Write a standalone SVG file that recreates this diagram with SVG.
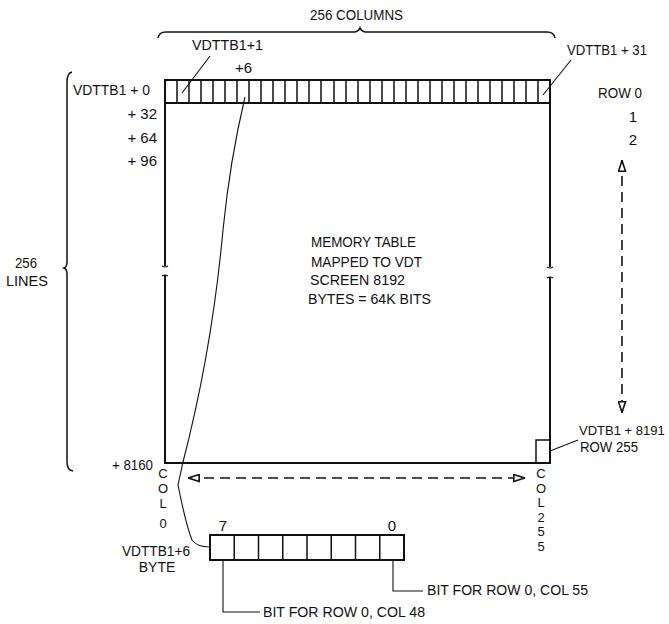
<svg xmlns="http://www.w3.org/2000/svg" width="669" height="624" viewBox="0 0 669 624">
<defs>
<style>
text{font-family:"Liberation Sans",Arial,sans-serif;font-size:15px;fill:#111}
.s{font-size:14px}
.v{font-size:13px;text-anchor:middle}
.ln{fill:none;stroke:#111;stroke-width:1.5}
.thin{fill:none;stroke:#111;stroke-width:1.1}
.bold{fill:none;stroke:#111;stroke-width:2}
.dash{fill:none;stroke:#111;stroke-width:1.6;stroke-dasharray:10 6}
.mid{text-anchor:middle}
</style>
<marker id="ah" viewBox="0 0 12 9" refX="12" refY="4.5" markerWidth="12" markerHeight="9" markerUnits="userSpaceOnUse" orient="auto-start-reverse">
<path d="M0.8,1 L11.5,4.5 L0.8,8 Z" fill="#fff" stroke="#111" stroke-width="1.6"/>
</marker>
</defs>
<rect width="669" height="624" fill="#fff"/>

<g id="columns-brace">
<path class="ln" d="M158,38 Q159,32 166,32 L355,32 Q359,31 360,28 Q361,31 365,32 L547,32 Q554,32 555,38"/>
<text x="310" y="20" textLength="93" lengthAdjust="spacingAndGlyphs">256 COLUMNS</text>
</g>

<g id="lines-brace">
<path class="ln" d="M72,72 Q67,73 67,82 L67,262 Q67,267 64,268 Q67,269 67,274 L67,462 Q67,470 73,471"/>
<text x="15" y="268" textLength="22" lengthAdjust="spacingAndGlyphs">256</text>
<text x="6" y="286" textLength="42" lengthAdjust="spacingAndGlyphs">LINES</text>
</g>

<g id="memory-table">
<rect class="bold" x="165" y="80" width="385" height="23"/>
<path class="ln" d="M177,80V103M189,80V103M201,80V103M213,80V103M225,80V103M237,80V103M249,80V103M261,80V103M273,80V103M285,80V103M297,80V103M309,80V103M321,80V103M334,80V103M346,80V103M358,80V103M370,80V103M382,80V103M394,80V103M406,80V103M418,80V103M430,80V103M442,80V103M454,80V103M466,80V103M478,80V103M490,80V103M502,80V103M514,80V103M526,80V103M538,80V103"/>
<path class="bold" d="M165,103 V266 M165,275 V463 H550 V277 M550,267 V103"/>
<path class="thin" d="M162,266 Q165,268 168,266 M162,276 Q165,274 168,276 M547,267 Q550,269 553,267 M547,278 Q550,276 553,278"/>
<rect class="ln" x="536" y="440" width="14" height="23"/>
<text x="311" y="247" textLength="105" lengthAdjust="spacingAndGlyphs">MEMORY TABLE</text>
<text x="311" y="267" textLength="111" lengthAdjust="spacingAndGlyphs">MAPPED TO VDT</text>
<text x="310" y="285" textLength="95" lengthAdjust="spacingAndGlyphs">SCREEN 8192</text>
<text x="308" y="304" textLength="123" lengthAdjust="spacingAndGlyphs">BYTES = 64K BITS</text>
</g>

<g id="row-labels">
<text x="73" y="95" textLength="77" lengthAdjust="spacingAndGlyphs">VDTTB1 + 0</text>
<text x="157" y="119" text-anchor="end">+ 32</text>
<text x="157" y="143" text-anchor="end">+ 64</text>
<text x="157" y="166" text-anchor="end">+ 96</text>
<text x="112" y="470" textLength="41" lengthAdjust="spacingAndGlyphs">+ 8160</text>
</g>

<g id="top-labels">
<text x="192" y="50" textLength="71" lengthAdjust="spacingAndGlyphs">VDTTB1+1</text>
<text x="235" y="73">+6</text>
<text x="567" y="55" textLength="80" lengthAdjust="spacingAndGlyphs">VDTTB1 + 31</text>
</g>

<g id="row-numbers">
<text x="598" y="98" textLength="44" lengthAdjust="spacingAndGlyphs">ROW 0</text>
<text x="633" y="122" class="mid">1</text>
<text x="633" y="145" class="mid">2</text>
</g>

<g id="last-byte-label">
<text x="579" y="435" style="font-size:13px">VDTB1 + 8191</text>
<text x="580" y="452" textLength="58" lengthAdjust="spacingAndGlyphs">ROW 255</text>
</g>

<g id="col0-label">
<text x="163" y="478" class="v">C</text>
<text x="163" y="493" class="v">O</text>
<text x="163" y="508" class="v">L</text>
<text x="163" y="528" class="v">0</text>
</g>

<g id="col255-label">
<text x="541" y="478" class="v">C</text>
<text x="541" y="492.5" class="v">O</text>
<text x="541" y="507" class="v">L</text>
<text x="541" y="521.5" class="v">2</text>
<text x="541" y="536" class="v">5</text>
<text x="541" y="550.5" class="v">5</text>
</g>

<g id="byte">
<rect class="bold" x="210" y="535" width="194" height="25"/>
<path class="ln" d="M234.25,535V560M258.5,535V560M282.75,535V560M307,535V560M331.25,535V560M355.5,535V560M379.75,535V560"/>
<text x="223" y="531" class="mid">7</text>
<text x="392" y="531" class="mid">0</text>
<text x="122" y="556" class="s" textLength="68" lengthAdjust="spacingAndGlyphs">VDTTB1+6</text>
<text x="157" y="572" class="s mid">BYTE</text>
<text x="427" y="595" textLength="161" lengthAdjust="spacingAndGlyphs">BIT FOR ROW 0, COL 55</text>
<text x="263" y="617" textLength="162" lengthAdjust="spacingAndGlyphs">BIT FOR ROW 0, COL 48</text>
</g>

<g id="connectors">
<path class="thin" d="M210,56 L182,93"/>
<path class="thin" d="M571,60 L543,95"/>
<path class="thin" d="M550,451 L578,440"/>
<path class="thin" d="M245,97 Q230,160 223,230 Q212,350 183,462 L178,485 Q186,525 192,540 Q197,547 210,547"/>
<path class="thin" d="M223,560 V612 H260"/>
<path class="thin" d="M393,560 V591 H423"/>
<path class="dash" d="M188,478 H525" marker-start="url(#ah)" marker-end="url(#ah)"/>
<path class="dash" d="M622,160 V413" marker-start="url(#ah)" marker-end="url(#ah)"/>
</g>
</svg>
